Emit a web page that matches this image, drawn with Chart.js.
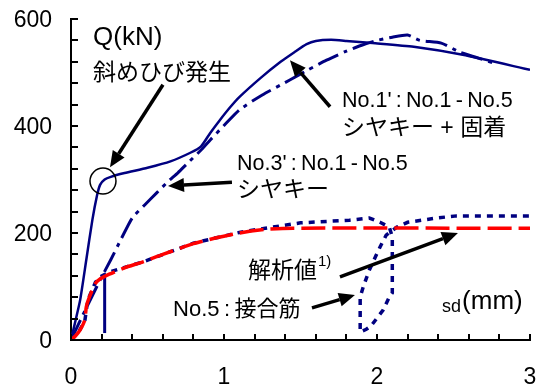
<!DOCTYPE html>
<html>
<head>
<meta charset="utf-8">
<script src="https://cdn.jsdelivr.net/npm/chart.js@4.4.0/dist/chart.umd.min.js"></script>
<style>
    html, body { margin: 0; padding: 0; background: #fff; }
    #wrap { width: 546px; height: 388px; }
</style>
</head>
<body>
<div id="wrap"><canvas id="chart" width="546" height="388"></canvas></div>
<script>
// No.1' : No.1 - No.5 (shear key + bonded), solid
const no1X = [0, 0.03, 0.06, 0.10, 0.14, 0.17, 0.19, 0.22, 0.26, 0.35, 0.50, 0.65, 0.78, 0.85, 0.91, 0.97, 1.04, 1.10, 1.24, 1.37, 1.46, 1.54, 1.60, 1.70, 1.80, 1.97, 2.24, 2.56, 3.0];
const no1Y = [0, 37, 75, 150, 225, 270, 290, 300, 305, 312, 322, 334, 350, 362, 387, 410, 435, 454, 490, 520, 538, 553, 559, 561, 559, 555, 548, 533, 505];

// No.3' : No.1 - No.5 (shear key), dash-dot
const no3X = [0, 0.10, 0.19, 0.26, 0.33, 0.40, 0.48, 0.56, 0.63, 0.70, 0.76, 0.85, 0.91, 1.0, 1.10, 1.25, 1.43, 1.55, 1.67, 1.80, 1.90, 2.0, 2.1, 2.2, 2.28, 2.42, 2.54, 2.65, 2.76];
const no3Y = [0, 60, 112, 150, 190, 228, 252, 275, 295, 313, 330, 355, 374, 401, 430, 458, 486, 505, 523, 540, 551, 560, 566, 570, 560, 555, 538, 528, 518];

// No.5 : connecting bars, dotted
const no5X = [0, 0.05, 0.09, 0.11, 0.16, 0.19, 0.25, 0.47, 0.8, 1.1, 1.27, 1.5, 1.69, 1.82, 1.95, 2.02, 2.08, 2.10, 2.10, 2.08, 2.04, 1.96, 1.93, 1.89, 1.89, 1.91, 1.95, 2.02, 2.06, 2.13, 2.2, 2.39, 2.52, 3.0];
const no5Y = [0, 15, 35, 75, 108, 118, 127, 146, 181, 201, 209, 219, 222, 224, 228, 220, 211, 193, 88, 80, 56, 26, 20, 15, 80, 99, 131, 174, 196, 211, 220, 228, 232, 232];

// unloading segment at the start, solid
const unloadX = [0.22, 0.22];
const unloadY = [13, 118];

// analysis 1), red dashed
const anaX = [0, 0.03, 0.06, 0.09, 0.10, 0.12, 0.16, 0.19, 0.25, 0.35, 0.47, 0.6, 0.8, 0.95, 1.1, 1.28, 1.45, 3.0];
const anaY = [0, 8, 19, 37, 62, 80, 106, 114, 123, 135, 146, 160, 180, 191, 200, 207, 209, 209];

const xTicks = [0, 1, 2, 3];
const yTicks = [0, 200, 400, 600];

const navy = '#000080';
const red = '#ff0000';
const latin = '"Liberation Sans", Arial, "Noto Sans CJK JP", sans-serif';
const hs = '\u2009';

function toPoints(xs, ys) {
    return xs.map((x, i) => ({ x: x, y: ys[i] }));
}

// annotations, placed in data units
const notes = [
    { text: 'Q(kN)', x: 0.144, y: 551, size: 26 },
    { text: '斜めひび発生', x: 0.144, y: 486, size: 23 },
    { text: 'No.3\'' + hs + ':' + hs + 'No.1' + hs + '-' + hs + 'No.5', x: 1.085, y: 318, size: 21.5 },
    { text: 'シヤキー', x: 1.085, y: 267, size: 23 },
    { text: 'No.1\'' + hs + ':' + hs + 'No.1' + hs + '-' + hs + 'No.5', x: 1.771, y: 436, size: 21.5 },
    { text: 'シヤキー + 固着', x: 1.771, y: 383, size: 23 },
    { text: '解析値', x: 1.157, y: 116, size: 23 },
    { text: '1)', x: 1.614, y: 138, size: 15 },
    { text: 'No.5' + hs + ':' + hs + '接合筋', x: 0.667, y: 45, size: 22 },
    { text: 'sd', x: 2.425, y: 52, size: 18 },
    { text: '(mm)', x: 2.556, y: 58, size: 26 }
];

const arrows = [
    { from: [0.601, 477], to: [0.255, 323] },
    { from: [1.052, 295], to: [0.634, 288] },
    { from: [1.693, 436], to: [1.431, 523] },
    { from: [1.758, 118], to: [2.529, 200] },
    { from: [1.575, 60], to: [1.856, 84] }
];

const crackMark = { x: 0.209, y: 297, r: 13 };

function drawArrow(ctx, x1, y1, x2, y2) {
    const ang = Math.atan2(y2 - y1, x2 - x1);
    const head = 16, half = 7;
    const bx = x2 - head * Math.cos(ang);
    const by = y2 - head * Math.sin(ang);
    ctx.beginPath();
    ctx.moveTo(x1, y1);
    ctx.lineTo(bx, by);
    ctx.lineWidth = 3.5;
    ctx.stroke();
    ctx.beginPath();
    ctx.moveTo(x2, y2);
    ctx.lineTo(bx + half * Math.sin(ang), by - half * Math.cos(ang));
    ctx.lineTo(bx - half * Math.sin(ang), by + half * Math.cos(ang));
    ctx.closePath();
    ctx.fill();
}

const decorations = {
    id: 'decorations',
    afterDraw(chart) {
        const ctx = chart.ctx;
        const xs = chart.scales.x;
        const ys = chart.scales.y;
        const area = chart.chartArea;
        ctx.save();
        ctx.strokeStyle = '#000';
        ctx.fillStyle = '#000';

        // inward minor ticks
        ctx.lineWidth = 2;
        ctx.beginPath();
        for (let v = 0; v <= 600; v += 40) {
            const py = Math.round(ys.getPixelForValue(v));
            ctx.moveTo(area.left, py);
            ctx.lineTo(area.left + 7, py);
        }
        for (let i = 0; i <= 15; i++) {
            const px = Math.round(xs.getPixelForValue(i * 0.2));
            ctx.moveTo(px, area.bottom);
            ctx.lineTo(px, area.bottom - 6);
        }
        ctx.stroke();

        // crack circle
        ctx.lineWidth = 1.5;
        ctx.beginPath();
        ctx.arc(xs.getPixelForValue(crackMark.x), ys.getPixelForValue(crackMark.y), crackMark.r, 0, Math.PI * 2);
        ctx.stroke();

        arrows.forEach(a => {
            drawArrow(ctx,
                xs.getPixelForValue(a.from[0]), ys.getPixelForValue(a.from[1]),
                xs.getPixelForValue(a.to[0]), ys.getPixelForValue(a.to[1]));
        });

        ctx.textAlign = 'left';
        ctx.textBaseline = 'alphabetic';
        notes.forEach(n => {
            ctx.font = n.size + 'px ' + latin;
            ctx.fillText(n.text, xs.getPixelForValue(n.x), ys.getPixelForValue(n.y));
        });
        ctx.restore();
    }
};

const lineDefaults = { showLine: true, pointRadius: 0, fill: false };

new Chart(document.getElementById('chart'), {
    type: 'scatter',
    data: {
        datasets: [
            Object.assign({ label: 'analysis', data: toPoints(anaX, anaY), borderColor: red, borderWidth: 3.5, borderDash: [24, 7], tension: 0.2, order: 0 }, lineDefaults),
            Object.assign({ label: 'No.1\'', data: toPoints(no1X, no1Y), borderColor: navy, borderWidth: 2.5, tension: 0.2, order: 1 }, lineDefaults),
            Object.assign({ label: 'No.3\'', data: toPoints(no3X, no3Y), borderColor: navy, borderWidth: 3, borderDash: [22, 6, 4, 6], tension: 0.2, order: 2 }, lineDefaults),
            Object.assign({ label: 'unload', data: toPoints(unloadX, unloadY), borderColor: navy, borderWidth: 3, order: 3 }, lineDefaults),
            Object.assign({ label: 'No.5', data: toPoints(no5X, no5Y), borderColor: navy, borderWidth: 3.5, borderDash: [6, 6], tension: 0, order: 4 }, lineDefaults)
        ]
    },
    options: {
        responsive: false,
        animation: false,
        events: [],
        layout: { padding: { top: 19, right: 16, left: 0, bottom: 0 } },
        plugins: { legend: { display: false }, tooltip: { enabled: false } },
        scales: {
            x: {
                type: 'linear', min: 0, max: 3,
                afterFit: s => { s.height = 48; s.paddingLeft = 0; s.paddingRight = 0; },
                afterBuildTicks: s => { s.ticks = xTicks.map(v => ({ value: v })); },
                grid: { display: false, drawTicks: false },
                border: { display: true, color: '#000', width: 2 },
                ticks: { color: '#000', padding: 24, autoSkip: false, maxRotation: 0, font: { family: latin, size: 23 } }
            },
            y: {
                type: 'linear', min: 0, max: 600,
                afterFit: s => { s.width = 71; s.paddingTop = 0; s.paddingBottom = 0; },
                afterBuildTicks: s => { s.ticks = yTicks.map(v => ({ value: v })); },
                grid: { display: false, drawTicks: false },
                border: { display: true, color: '#000', width: 2 },
                ticks: { color: '#000', padding: 19, labelOffset: 2, autoSkip: false, font: { family: latin, size: 23 } }
            }
        }
    },
    plugins: [decorations]
});
</script>
</body>
</html>
